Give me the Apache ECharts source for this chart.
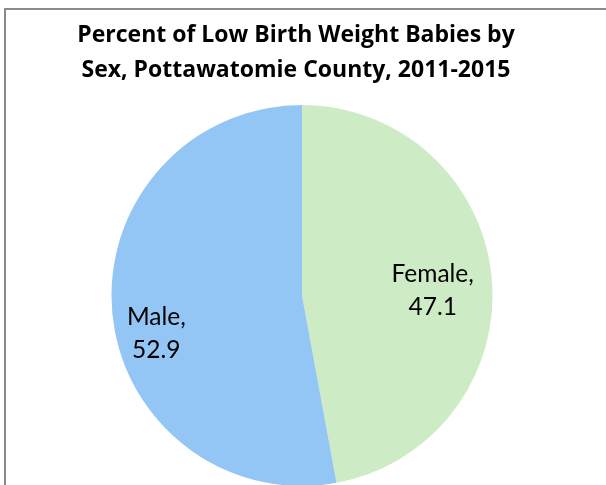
<!DOCTYPE html>
<html><head><meta charset="utf-8">
<script src="https://cdn.jsdelivr.net/npm/echarts@6/dist/echarts.min.js"></script>
<style>html,body{margin:0;padding:0;background:#fff}#c{width:606px;height:485px}</style>
</head><body><div id="c"></div>
<script>
const categories = ['Female', 'Male'];
const values = [47.1, 52.9];
const colors = ['#CDEBC4', '#93C5F5'];
const titleText = 'Percent of Low Birth Weight Babies by\nSex, Pottawatomie County, 2011-2015';

const chart = echarts.init(document.getElementById('c'));
const data = categories.map((n, i) => ({ name: n, value: values[i], itemStyle: { color: colors[i] } }));
const center = [302, 295.5];
const labelShift = [[-5, 7], [-10, 26]];
chart.setOption({
  animation: false,
  title: {
    text: titleText, left: 291, top: 13, textAlign: 'center',
    textStyle: { fontFamily: 'Open Sans', fontWeight: 'bold', fontSize: 23, color: '#000', lineHeight: 35 }
  },
  graphic: [{
    type: 'rect', shape: { x: 5, y: 9, width: 700, height: 600 },
    style: { fill: 'none', stroke: '#8a8a8a', lineWidth: 2 }, silent: true
  }],
  series: [{
    type: 'pie', center: center, radius: 190.5, startAngle: 90, clockwise: true,
    label: { show: false }, labelLine: { show: false },
    itemStyle: { borderWidth: 0 }, silent: true,
    data: data
  }, {
    type: 'pie', center: center, radius: [76, 190.5], startAngle: 90, clockwise: true,
    silent: true, z: 5,
    itemStyle: { color: 'rgba(0,0,0,0)', borderWidth: 0 },
    label: {
      show: true, position: 'inside', color: '#000', fontFamily: 'Lato', fontSize: 24.5, lineHeight: 33,
      formatter: p => p.name + ',\n' + p.value.toFixed(1)
    },
    labelLayout: p => ({ dx: labelShift[p.dataIndex][0], dy: labelShift[p.dataIndex][1] }),
    labelLine: { show: false },
    data: categories.map((n, i) => ({ name: n, value: values[i] }))
  }]
});
</script></body></html>
